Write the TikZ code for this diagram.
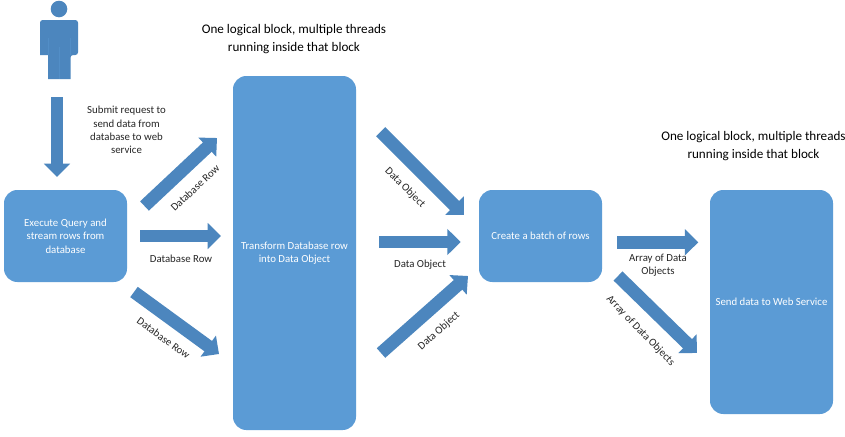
\documentclass[tikz,border=0pt]{standalone}
\usepackage{fontspec}
\setmainfont{Carlito}
\usetikzlibrary{arrows.meta}
\definecolor{boxblue}{HTML}{5B9BD5}
\definecolor{arrowblue}{HTML}{4C86BE}
\definecolor{txt}{HTML}{262626}
\tikzset{
  procbox/.style={fill=boxblue,draw=none,rounded corners=10pt,inner sep=0pt,text=white,align=center,font=\fontsize{8.1}{10.1}\selectfont},
  blockarrow/.style={draw=arrowblue,line width=9.6pt,-{Triangle[length=10pt,width=19pt,fill=arrowblue]},shorten >=0pt},
  lbl/.style={text=txt,align=center,inner sep=0pt,font=\fontsize{8.1}{10}\selectfont},
  titlelbl/.style={text=black,align=center,inner sep=0pt,font=\fontsize{9.85}{12.9}\selectfont}
}
\begin{document}
\begin{tikzpicture}[x=0.75pt,y=-0.75pt]
\useasboundingbox (0,0) rectangle (845,436);
\fill[white] (0,0) rectangle (845,436);
% person
\fill[arrowblue] (59,9) circle[radius=8.3];
\fill[arrowblue,rounded corners=2pt] (40,55) -- (40,20) -- (78,20) -- (78,55) -- (70.5,55) [sharp corners] -- (70.5,79) -- (48,79) -- (48,55) -- cycle;
\draw[boxblue!40!arrowblue,line width=0.3pt] (48,38) -- (48,55) (70.5,38) -- (70.5,55) (59,47) -- (59,79);
% boxes
\node[procbox,minimum width=123pt*0.75,minimum height=92pt*0.75] (query) at (65.5,236) {Execute Query and\\stream rows from\\database};
\node[procbox,minimum width=123pt*0.75,minimum height=354pt*0.75] (transform) at (294.5,253) {Transform Database row\\into Data Object};
\node[procbox,minimum width=123pt*0.75,minimum height=92pt*0.75] (batch) at (540.5,236) {Create a batch of rows};
\node[procbox,minimum width=123pt*0.75,minimum height=224pt*0.75] (send) at (771.5,302) {Send data to Web Service};
% arrow ends
\coordinate (a0s) at (57,97);   \coordinate (a0e) at (57,177);
\coordinate (a1s) at (144.5,206); \coordinate (a1e) at (217,138);
\coordinate (a2s) at (140,236); \coordinate (a2e) at (221,236);
\coordinate (a3s) at (134,292); \coordinate (a3e) at (219,354);
\coordinate (b1s) at (380.7,131.7); \coordinate (b1e) at (464,215);
\coordinate (b2s) at (379.3,242); \coordinate (b2e) at (460.7,242);
\coordinate (b3s) at (381,353); \coordinate (b3e) at (468,276);
\coordinate (c1s) at (617.3,242.3); \coordinate (c1e) at (698.3,242.3);
\coordinate (c2s) at (618,276); \coordinate (c2e) at (697,353);
\foreach \p in {a0,a1,a2,a3,b1,b2,b3,c1,c2}{\draw[blockarrow] (\p s) -- (\p e);}
% labels
\node[titlelbl] (t1) at (294,39) {One logical block, multiple threads\\running inside that block};
\node[titlelbl] (t2) at (753.5,146) {One logical block, multiple threads\\running inside that block};
\node[lbl] (sub) at (126.5,130) {Submit request to\\send data from\\database to web\\service};
\node[lbl,rotate=43] (l1) at (195,188) {Database Row};
\node[lbl] (l2) at (181,259) {Database Row};
\node[lbl,rotate=-36] (l3) at (163.5,338) {Database Row};
\node[lbl,rotate=-45] (l4) at (405,188) {Data Object};
\node[lbl] (l5) at (420,265) {Data Object};
\node[lbl,rotate=42] (l6) at (439,331) {Data Object};
\node[lbl] (l7) at (658,265) {Array of Data\\Objects};
\node[lbl,rotate=-46] (l8) at (640.5,331) {Array of Data Objects};
\end{tikzpicture}
\end{document}
